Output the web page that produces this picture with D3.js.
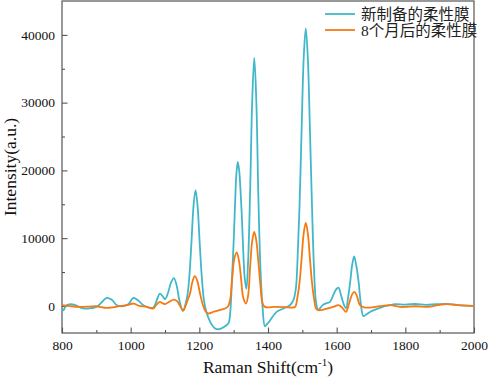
<!DOCTYPE html>
<html><head><meta charset="utf-8">
<script src="https://cdn.jsdelivr.net/npm/d3@7/dist/d3.min.js"></script>
<style>body{margin:0;background:#fff}svg{display:block}</style>
</head><body><svg id="c" width="489" height="384"></svg>
<script>
const seriesNames = ["新制备的柔性膜", "8个月后的柔性膜"];
const freshX = [800,804,810,818,835,848,862,880,900,915,930,945,960,975,992,1008,1022,1037,1050,1066,1075,1085,1092,1100,1108,1118,1126,1134,1142,1152,1160,1166,1171,1177,1183,1189,1195,1201,1207,1213,1220,1232,1245,1255,1265,1275,1285,1290,1295,1300,1304,1308,1312,1316,1320,1324,1328,1332,1337,1342,1348,1354,1360,1366,1372,1378,1384,1391,1397,1406,1425,1445,1464,1474,1481,1486,1492,1498,1504,1510,1516,1522,1528,1534,1540,1546,1551,1560,1570,1580,1590,1598,1605,1614,1621,1627,1634,1640,1645,1651,1657,1664,1670,1678,1688,1697,1712,1726,1740,1755,1770,1800,1830,1860,1890,1920,1950,1975,2000];
const freshY = [-350,-650,-100,200,200,-100,-380,-380,-150,500,1180,900,100,-50,200,1180,800,100,-200,-240,700,1800,1500,990,1800,3500,4100,3000,800,-740,300,1800,4400,9300,14700,17080,14700,9300,4400,1000,-800,-2400,-3300,-3450,-3300,-3000,-2550,-1000,4000,9500,15000,19500,21250,20000,17000,13000,8000,4200,2500,6500,17000,30200,36600,30200,16000,5500,0,-3000,-2700,-2150,-880,-380,100,840,2500,6800,15000,26200,36600,40940,36600,26200,15000,5500,500,-600,-380,150,400,550,1580,2400,2710,1330,200,-380,1500,3800,6000,7300,6000,3500,500,-1500,-1200,-890,-550,-300,-50,100,250,200,280,150,250,300,150,50,0];
const agedX = [800,820,850,880,900,930,950,970,990,1008,1025,1045,1066,1075,1085,1093,1100,1112,1126,1135,1144,1153,1160,1167,1173,1180,1187,1194,1202,1210,1218,1226,1240,1251,1263,1275,1284,1290,1296,1302,1309,1316,1322,1328,1336,1342,1348,1354,1360,1366,1372,1378,1384,1391,1420,1450,1470,1479,1486,1492,1498,1504,1510,1516,1522,1528,1534,1540,1546,1566,1590,1605,1615,1627,1634,1640,1645,1651,1658,1668,1682,1697,1726,1755,1785,1800,1830,1867,1895,1920,1950,2000];
const agedY = [100,0,-150,-100,-50,-300,-200,0,100,350,0,-100,-380,200,590,400,250,600,940,700,0,-700,0,1000,1830,3600,4380,3700,1830,200,-800,-1120,-900,-740,-550,-380,-40,1000,4200,7000,7880,6500,3800,1200,350,1500,5760,9600,10920,9600,6500,3000,400,-150,-150,-180,-240,-150,1350,3500,7050,10700,12250,10700,7050,3500,1100,-400,-640,-490,-150,100,-200,-880,0,1000,1700,2070,1600,100,-240,-240,-40,100,-150,-150,-50,-150,100,250,100,0];
const xTicks = [800,1000,1200,1400,1600,1800,2000];
const xMinor = [900,1100,1300,1500,1700,1900];
const yTicks = [0,10000,20000,30000,40000];
const yMinor = [5000,15000,25000,35000];
const colors = ["#41B8CA", "#F67A12"];

const L = 62, R = 474, T = 1, B = 333;
const svg = d3.select("#c");
const x = d3.scaleLinear().domain([800, 2000]).range([L, R]);
const y = d3.scaleLinear().domain([-4000, 45000]).range([B, T]);
const serif = "'Liberation Serif','Times New Roman',serif";

// frame
svg.append("rect").attr("x", L).attr("y", T).attr("width", R - L).attr("height", B - T)
  .attr("fill", "none").attr("stroke", "#555").attr("stroke-width", 1.2);

function styleAxis(g) {
  g.select(".domain").remove();
  g.selectAll("line").attr("stroke", "#555").attr("stroke-width", 1.1);
  g.selectAll("text").attr("font-family", serif).attr("font-size", 13.5).attr("fill", "#111");
}
svg.append("g").attr("transform", `translate(0,${B})`)
  .call(d3.axisBottom(x).tickValues(xTicks).tickSizeInner(-5.5).tickSizeOuter(0).tickPadding(7).tickFormat(d3.format("d")))
  .call(styleAxis);
svg.append("g").attr("transform", `translate(0,${B})`)
  .call(d3.axisBottom(x).tickValues(xMinor).tickSizeInner(-3).tickSizeOuter(0).tickFormat(""))
  .call(styleAxis);
svg.append("g").attr("transform", `translate(${L},0)`)
  .call(d3.axisLeft(y).tickValues(yTicks).tickSizeInner(-5.5).tickSizeOuter(0).tickPadding(7).tickFormat(d3.format("d")))
  .call(styleAxis);
svg.append("g").attr("transform", `translate(${L},0)`)
  .call(d3.axisLeft(y).tickValues(yMinor).tickSizeInner(-3).tickSizeOuter(0).tickFormat(""))
  .call(styleAxis);

svg.append("defs").append("clipPath").attr("id", "clip")
  .append("rect").attr("x", L).attr("y", T).attr("width", R - L).attr("height", B - T);

const line = d3.line().x(d => x(d[0])).y(d => y(d[1])).curve(d3.curveCatmullRom.alpha(0.5));
const series = [d3.zip(freshX, freshY), d3.zip(agedX, agedY)];
series.forEach((s, i) => {
  svg.append("path").datum(s).attr("clip-path", "url(#clip)")
    .attr("d", line).attr("fill", "none").attr("stroke", colors[i])
    .attr("stroke-width", 1.8).attr("stroke-linejoin", "round");
});

// axis titles
const xt = svg.append("text").attr("x", (L + R) / 2).attr("y", 373).attr("text-anchor", "middle")
  .attr("font-family", serif).attr("font-size", 17.5).attr("fill", "#111");
xt.append("tspan").text("Raman Shift(cm");
xt.append("tspan").attr("font-size", 11).attr("dy", -7).text("-1");
xt.append("tspan").attr("dy", 7).text(")");

svg.append("text").attr("transform", `translate(16,${(T + B) / 2}) rotate(-90)`)
  .attr("text-anchor", "middle").attr("font-family", serif).attr("font-size", 17.5).attr("fill", "#111")
  .text("Intensity(a.u.)");

// legend
const leg = svg.append("g");
seriesNames.forEach((n, i) => {
  const yy = 14 + i * 16;
  leg.append("line").attr("x1", 325).attr("x2", 355).attr("y1", yy).attr("y2", yy)
    .attr("stroke", colors[i]).attr("stroke-width", 1.8);
  leg.append("text").attr("x", 361).attr("y", yy).attr("dy", "0.36em")
    .attr("font-family", "'Liberation Serif','Noto Sans CJK SC',serif").attr("font-size", 15.5)
    .attr("fill", "#222").text(n);
});
</script></body></html>
